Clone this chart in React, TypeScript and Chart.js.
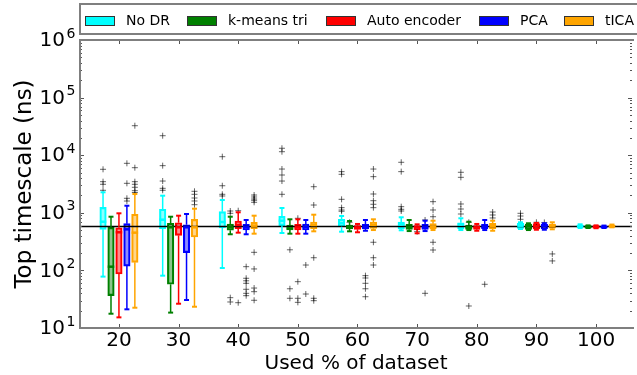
import React, { useEffect, useRef } from 'react';
import { Chart, registerables } from 'chart.js';

Chart.register(...registerables);

// ---------- data ----------
const categories = [20, 30, 40, 50, 60, 70, 80, 90, 100];
const methodNames = ['No DR', 'k-means tri', 'Auto encoder', 'PCA', 'tICA'];
const yTickExponents = [1, 2, 3, 4, 5, 6];
const referenceValue = 578;

// per category: [lower whisker, q1, median, q3, upper whisker] (ns)
const noDR = [
  [78, 517, 700, 1245, 2270],
  [81, 523, 759, 1151, 1982],
  [110, 545, 692, 1045, 1668],
  [446, 597, 729, 869, 1212],
  [470, 574, 658, 771, 879],
  [497, 529, 631, 692, 836],
  [502, 529, 631, 673, 803],
  [523, 538, 597, 658, 684],
  [545, 560, 587, 614, 631],
];
const kmeansTri = [
  [17.7, 36.4, 116, 560, 855],
  [18.5, 57.4, 560, 658, 855],
  [424, 497, 560, 640, 855],
  [434, 502, 538, 614, 771],
  [477, 523, 574, 614, 721],
  [482, 517, 560, 631, 750],
  [502, 517, 560, 614, 700],
  [502, 517, 587, 640, 658],
  [545, 550, 566, 597, 605],
];
const autoEncoder = [
  [15.3, 86.6, 459, 551, 980],
  [26.4, 406, 560, 673, 891],
  [452, 529, 614, 721, 1021],
  [434, 502, 560, 631, 771],
  [459, 517, 560, 597, 640],
  [441, 502, 560, 597, 631],
  [488, 517, 560, 597, 640],
  [508, 523, 587, 647, 667],
  [540, 548, 566, 597, 605],
];
const pca = [
  [21.1, 119, 517, 647, 1327],
  [30.6, 203, 560, 621, 953],
  [424, 502, 560, 631, 750],
  [434, 502, 566, 640, 750],
  [488, 523, 574, 631, 750],
  [482, 517, 560, 631, 729],
  [502, 529, 574, 631, 750],
  [508, 523, 597, 640, 658],
  [545, 550, 566, 590, 600],
];
const tica = [
  [22.5, 138, 452, 942, 2120],
  [23.4, 380, 560, 771, 1178],
  [434, 529, 597, 684, 891],
  [477, 523, 614, 692, 927],
  [502, 538, 614, 692, 771],
  [502, 529, 574, 647, 729],
  [488, 529, 587, 658, 729],
  [517, 540, 597, 640, 684],
  [560, 566, 587, 614, 625],
];

// outliers per category
const noDROutliers = [
  [5690, 3470, 3125, 2460],
  [21800, 6580, 3560, 2660, 2460],
  [9420, 2950, 2094, 1958],
  [13200, 11500, 5750, 4530, 3560, 2094],
  [5180, 4660, 1714, 1228, 1119, 1063],
  [7530, 5180, 1277, 1151, 1074],
  [5050, 4130, 1422, 1164, 953],
  [980, 879, 771],
  [],
];
const kmeansTriOutliers = [
  [], [],
  [1074, 980, 33.6, 28.3],
  [228, 48, 32.8],
  [684],
  [],
  [684, 24.1],
  [], [],
];
const autoEncoderOutliers = [
  [], [],
  [1087, 27.5],
  [803, 63.7, 32.8, 27.9],
  [],
  [470],
  [],
  [684],
  [],
];
const pcaOutliers = [
  [7230, 3250, 1786, 1600],
  [],
  [116, 73, 66, 59.7, 47, 40, 36.4],
  [124, 38.9],
  [81, 73.8, 59.7, 48, 34.9],
  [750, 40],
  [57.4],
  [680],
  [],
];
const ticaOutliers = [
  [32500, 6070, 3470, 3125, 2773, 2420, 2250],
  [2362, 2094, 1807, 1603, 1383],
  [2037, 1881, 1738, 1649, 1522, 206, 106, 49.4, 42.7, 30.3],
  [2838, 1365, 166, 32.8, 29.8],
  [5750, 4240, 2120, 1622, 1406, 1228, 308, 166, 124],
  [1560, 1119, 855, 308, 226],
  [1032, 916, 813],
  [193, 146],
  [],
];

const methodStats = [noDR, kmeansTri, autoEncoder, pca, tica];
const methodOutliers = [noDROutliers, kmeansTriOutliers, autoEncoderOutliers, pcaOutliers, ticaOutliers];

// ---------- styles ----------
const methodColors = ['#00ffff', '#008000', '#ff0000', '#0000ff', '#ffa500'];
const methodFills = [
  'rgba(0,255,255,0.45)',
  'rgba(0,128,0,0.45)',
  'rgba(255,0,0,0.45)',
  'rgba(0,0,255,0.45)',
  'rgba(255,165,0,0.45)',
];
const methodOffsets = [-2.667, -1.333, 0, 1.333, 2.667];
const FONT = "'DejaVu Sans', sans-serif";
const BOX_W = 6.5;

const boxExtras = {
  id: 'boxExtras',
  afterDatasetsDraw(chart: any) {
    const { ctx } = chart;
    const xs = chart.scales.x;
    const ys = chart.scales.y;
    const seg = (x1: number, y1: number, x2: number, y2: number) => {
      ctx.beginPath();
      ctx.moveTo(x1, y1);
      ctx.lineTo(x2, y2);
      ctx.stroke();
    };
    ctx.save();
    methodStats.forEach((stats, m) => {
      stats.forEach((s, i) => {
        const cx = xs.getPixelForValue(categories[i] + methodOffsets[m]);
        const [lo, q1, med, q3, hi] = s;
        const yLo = ys.getPixelForValue(lo);
        const yQ1 = ys.getPixelForValue(q1);
        const yMed = ys.getPixelForValue(med);
        const yQ3 = ys.getPixelForValue(q3);
        const yHi = ys.getPixelForValue(hi);
        ctx.strokeStyle = methodColors[m];
        ctx.lineWidth = 1.5;
        seg(cx, yQ3, cx, yHi);
        seg(cx, yQ1, cx, yLo);
        ctx.lineWidth = 2;
        seg(cx - 2.5, yHi, cx + 2.5, yHi);
        seg(cx - 2.5, yLo, cx + 2.5, yLo);
        ctx.lineWidth = 2.5;
        seg(cx - BOX_W / 2, yMed, cx + BOX_W / 2, yMed);
      });
    });
    ctx.restore();
  },
  afterDraw(chart: any) {
    const { ctx, chartArea } = chart;
    const { left, right, top, bottom } = chartArea;
    const xs = chart.scales.x;
    const ys = chart.scales.y;
    ctx.save();
    // ticks
    ctx.strokeStyle = '#555';
    ctx.lineWidth = 1;
    const seg = (x1: number, y1: number, x2: number, y2: number) => {
      ctx.beginPath();
      ctx.moveTo(x1, y1);
      ctx.lineTo(x2, y2);
      ctx.stroke();
    };
    categories.forEach((c) => {
      const px = Math.round(xs.getPixelForValue(c)) + 0.5;
      seg(px, bottom, px, bottom - 4);
      seg(px, top, px, top + 4);
    });
    yTickExponents.forEach((e) => {
      const py = Math.round(ys.getPixelForValue(Math.pow(10, e))) + 0.5;
      seg(left, py, left + 4, py);
      seg(right, py, right - 4, py);
      if (e < 6) {
        for (let k = 2; k <= 9; k++) {
          const my = Math.round(ys.getPixelForValue(k * Math.pow(10, e))) + 0.5;
          seg(left, my, left + 2, my);
          seg(right, my, right - 2, my);
        }
      }
    });
    // frame (right side lies beyond the visible canvas)
    ctx.strokeStyle = '#7f7f7f';
    ctx.lineWidth = 2;
    ctx.beginPath();
    ctx.moveTo(right + 2, top);
    ctx.lineTo(left, top);
    ctx.lineTo(left, bottom);
    ctx.lineTo(right + 2, bottom);
    ctx.stroke();

    // tick labels
    ctx.fillStyle = '#000';
    ctx.textBaseline = 'middle';
    ctx.textAlign = 'center';
    ctx.font = `20px ${FONT}`;
    categories.forEach((c) => {
      ctx.fillText(String(c), xs.getPixelForValue(c), 341);
    });
    yTickExponents.forEach((e) => {
      const py = ys.getPixelForValue(Math.pow(10, e));
      ctx.font = `20px ${FONT}`;
      ctx.textAlign = 'right';
      ctx.fillText('10', 65, py + 1);
      ctx.font = `14px ${FONT}`;
      ctx.textAlign = 'left';
      ctx.fillText(String(e), 66.5, py - 6);
    });

    // axis titles
    ctx.font = `20px ${FONT}`;
    ctx.textAlign = 'center';
    ctx.fillText('Used % of dataset', (left + right) / 2, 364);
    ctx.save();
    ctx.translate(25, (top + bottom) / 2);
    ctx.rotate(-Math.PI / 2);
    ctx.font = `23px ${FONT}`;
    ctx.fillText('Top timescale (ns)', 0, 0);
    ctx.restore();

    // legend
    ctx.strokeStyle = '#7f7f7f';
    ctx.lineWidth = 2;
    ctx.strokeRect(80, 4, 600, 30);
    const swatchX = [85, 187, 326, 479, 564];
    const textX = [126, 228, 367, 520, 605];
    ctx.font = `14px ${FONT}`;
    ctx.textAlign = 'left';
    methodNames.forEach((name, m) => {
      ctx.fillStyle = methodColors[m];
      ctx.fillRect(swatchX[m], 16, 30, 10);
      ctx.strokeStyle = '#333';
      ctx.lineWidth = 1;
      ctx.strokeRect(swatchX[m] + 0.5, 16.5, 29, 9);
      ctx.fillStyle = '#000';
      ctx.fillText(name, textX[m], 21.5);
    });
    ctx.restore();
  },
};

export default function App() {
  const ref = useRef<HTMLCanvasElement | null>(null);
  useEffect(() => {
    document.body.style.margin = '0';
    const canvas = ref.current;
    if (!canvas) return;

    const boxDatasets = methodNames.map((name, m) => ({
      type: 'bar' as const,
      label: name,
      data: methodStats[m].map((s, i) => ({ x: categories[i] + methodOffsets[m], y: [s[1], s[3]] })),
      backgroundColor: methodFills[m],
      borderColor: methodColors[m],
      borderWidth: 1.5,
      borderSkipped: false,
      grouped: false,
      barPercentage: 1,
      categoryPercentage: 1,
      barThickness: BOX_W,
      maxBarThickness: BOX_W,
      order: 2,
    }));

    const outlierDatasets = methodNames.map((name, m) => {
      const pts: { x: number; y: number }[] = [];
      methodOutliers[m].forEach((vals, i) => {
        vals.forEach((v) => pts.push({ x: categories[i] + methodOffsets[m], y: v }));
      });
      return {
        type: 'scatter' as const,
        label: name + ' outliers',
        data: pts,
        pointStyle: 'cross',
        pointRadius: 3,
        borderColor: 'rgba(0,0,0,0.6)',
        backgroundColor: 'rgba(0,0,0,0.6)',
        borderWidth: 1,
        order: 1,
      };
    });

    const hline = {
      type: 'line' as const,
      label: 'reference',
      data: [
        { x: 13.47, y: referenceValue },
        { x: 106.03, y: referenceValue },
      ],
      borderColor: '#000',
      borderWidth: 1.5,
      pointRadius: 0,
      order: 0,
    };

    const chart = new Chart(canvas, {
      type: 'bar',
      data: { datasets: [...boxDatasets, ...outlierDatasets, hline] as any },
      options: {
        animation: false,
        responsive: false,
        maintainAspectRatio: false,
        layout: { padding: { left: 80, right: 0, top: 40, bottom: 47 } },
        scales: {
          x: { type: 'linear', min: 13.47, max: 106.03, offset: false, display: false },
          y: { type: 'logarithmic', min: 10, max: 1e6, display: false },
        },
        plugins: { legend: { display: false }, tooltip: { enabled: false } },
      },
      plugins: [boxExtras],
    });
    return () => chart.destroy();
  }, []);
  return <canvas ref={ref} width={637} height={375} style={{ display: 'block' }} />;
}
